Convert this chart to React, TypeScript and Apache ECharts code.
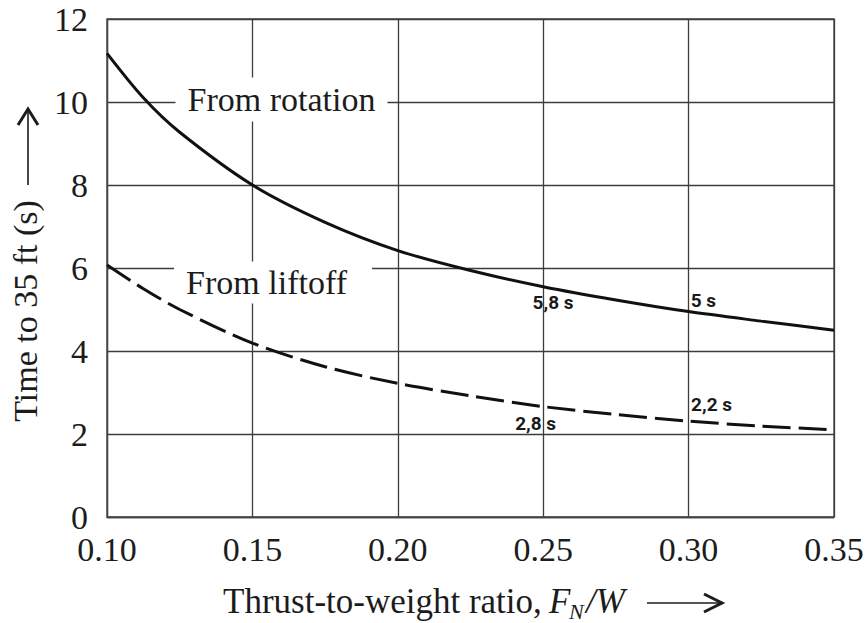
import React, { useEffect, useRef } from "react";
import * as echarts from "echarts";

// Thrust-to-weight ratio values (x)
const xValues = [0.1, 0.1125, 0.125, 0.15, 0.175, 0.2, 0.225, 0.25, 0.275, 0.3, 0.325, 0.35];
// Time to 35 ft from rotation (s)
const fromRotation = [11.17, 10.1, 9.27, 8.0, 7.1, 6.42, 5.94, 5.55, 5.23, 4.95, 4.72, 4.5];
// Time to 35 ft from liftoff (s)
const fromLiftoff = [6.07, 5.5, 5.0, 4.19, 3.62, 3.22, 2.92, 2.66, 2.47, 2.31, 2.19, 2.1];

const xTicks = [0.1, 0.15, 0.2, 0.25, 0.3, 0.35];
const yTicks = [0, 2, 4, 6, 8, 10, 12];

// Curve titles
const curveTitles = ["From rotation", "From liftoff"];
const curveTitleX = [0.16, 0.1571];
const curveTitleY = [10.06, 5.65];

// Small value annotations
const noteTexts = ["5,8 s", "5 s", "2,8 s", "2,2 s"];
const noteX = [0.2534, 0.3051, 0.2474, 0.3079];
const noteY = [5.18, 5.22, 2.25, 2.7];

const SERIF = "Liberation Serif, Times New Roman, serif";
const INK = "#1c1c1c";

export default function App() {
  const ref = useRef<HTMLDivElement>(null);

  useEffect(() => {
    if (!ref.current) return;
    const chart = echarts.init(ref.current, undefined, { renderer: "svg" });

    const rotationData = xValues.map((x, i) => [x, fromRotation[i]]);
    const liftoffData = xValues.map((x, i) => [x, fromLiftoff[i]]);

    const titleData = curveTitles.map((t, i) => ({
      value: [curveTitleX[i], curveTitleY[i]],
      name: t,
      label: {
        padding: i === 0 ? [5, 12, 5, 12] : [4, 25, 4, 12],
      },
    }));

    const noteData = noteTexts.map((t, i) => ({
      value: [noteX[i], noteY[i]],
      name: t,
    }));

    chart.setOption({
      animation: false,
      backgroundColor: "#ffffff",
      grid: {
        left: 107,
        top: 19,
        width: 727,
        height: 498,
        show: true,
        borderColor: "#444",
        borderWidth: 1.3,
        containLabel: false,
      },
      xAxis: {
        type: "value",
        min: xTicks[0],
        max: xTicks[xTicks.length - 1],
        interval: 0.05,
        axisLine: { show: true, lineStyle: { color: "#444", width: 1.3 } },
        axisTick: { show: false },
        axisLabel: {
          margin: 15,
          fontSize: 34,
          fontFamily: SERIF,
          color: INK,
          formatter: (v: number) => v.toFixed(2),
        },
        splitLine: { show: true, lineStyle: { color: "#3c3c3c", width: 1.3 } },
      },
      yAxis: {
        type: "value",
        min: yTicks[0],
        max: yTicks[yTicks.length - 1],
        interval: 2,
        axisLine: { show: true, lineStyle: { color: "#444", width: 1.3 } },
        axisTick: { show: false },
        axisLabel: {
          margin: 19,
          fontSize: 34,
          fontFamily: SERIF,
          color: INK,
        },
        splitLine: { show: true, lineStyle: { color: "#3c3c3c", width: 1.3 } },
      },
      series: [
        {
          type: "scatter",
          z: 2,
          symbolSize: 1,
          itemStyle: { color: "rgba(0,0,0,0)", opacity: 1 },
          data: titleData,
          label: {
            show: true,
            position: "inside",
            formatter: (p: any) => p.name,
            fontSize: 34,
            fontFamily: SERIF,
            color: INK,
            opacity: 1,
            backgroundColor: "#ffffff",
            align: "center",
            verticalAlign: "middle",
          },
          silent: true,
        },
        {
          type: "line",
          z: 3,
          data: rotationData,
          smooth: 0.3,
          showSymbol: false,
          lineStyle: { color: "#111", width: 3 },
        },
        {
          type: "line",
          z: 3,
          data: liftoffData,
          smooth: 0.3,
          showSymbol: false,
          lineStyle: { color: "#111", width: 3, type: [28, 8] },
        },
        {
          type: "scatter",
          z: 4,
          symbolSize: 1,
          itemStyle: { color: "rgba(0,0,0,0)", opacity: 1 },
          data: noteData,
          label: {
            show: true,
            position: "inside",
            formatter: (p: any) => p.name,
            fontSize: 19,
            fontWeight: "bold",
            fontFamily: "Roboto, sans-serif",
            color: "#1a1a1a",
            opacity: 1,
            align: "center",
            verticalAlign: "middle",
          },
          silent: true,
        },
      ],
      graphic: [
        // y-axis title
        {
          type: "text",
          x: 25,
          y: 311,
          rotation: Math.PI / 2,
          style: {
            text: "Time to 35 ft (s)",
            fontSize: 34,
            fontFamily: SERIF,
            fill: INK,
            align: "center",
            verticalAlign: "middle",
          },
        },
        {
          type: "line",
          shape: { x1: 28, y1: 185, x2: 28, y2: 110 },
          style: { stroke: INK, lineWidth: 1.6 },
        },
        {
          type: "polyline",
          shape: { points: [[18, 125], [28, 109], [38, 125]] },
          style: { stroke: INK, lineWidth: 3, fill: null },
        },
        // x-axis title
        {
          type: "text",
          x: 223,
          y: 601,
          style: {
            text: "Thrust-to-weight ratio,",
            fontSize: 35,
            fontFamily: SERIF,
            fill: INK,
            align: "left",
            verticalAlign: "middle",
          },
        },
        {
          type: "text",
          x: 549,
          y: 601,
          style: {
            text: "F",
            fontSize: 35,
            fontStyle: "italic",
            fontFamily: SERIF,
            fill: INK,
            align: "left",
            verticalAlign: "middle",
          },
        },
        {
          type: "text",
          x: 569,
          y: 611,
          style: {
            text: "N",
            fontSize: 22,
            fontStyle: "italic",
            fontFamily: SERIF,
            fill: INK,
            align: "left",
            verticalAlign: "middle",
          },
        },
        {
          type: "text",
          x: 586,
          y: 601,
          style: {
            text: "/W",
            fontSize: 35,
            fontStyle: "italic",
            fontFamily: SERIF,
            fill: INK,
            align: "left",
            verticalAlign: "middle",
          },
        },
        {
          type: "line",
          shape: { x1: 647, y1: 603, x2: 721, y2: 603 },
          style: { stroke: INK, lineWidth: 1.6 },
        },
        {
          type: "polyline",
          shape: { points: [[704, 594], [722, 603], [704, 612]] },
          style: { stroke: INK, lineWidth: 3, fill: null },
        },
      ],
    });

    return () => chart.dispose();
  }, []);

  return (
    <div
      ref={ref}
      style={{ position: "fixed", left: 0, top: 0, width: 868, height: 623, background: "#fff" }}
    />
  );
}
